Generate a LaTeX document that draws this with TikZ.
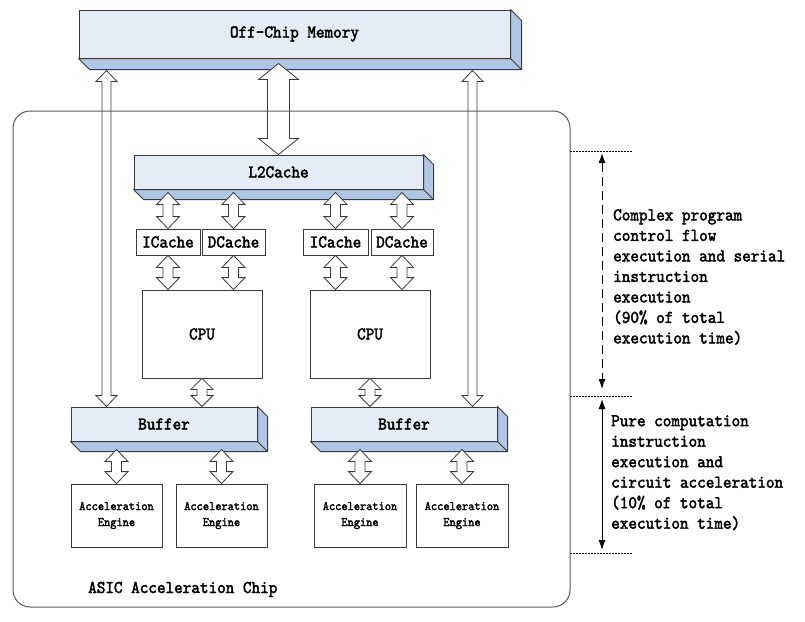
\documentclass[tikz,border=0pt]{standalone}
\usepackage{fontspec}
\newfontfamily\serifmono{lmmono10-regular}[Extension=.otf, FakeBold=2.2, FakeStretch=0.91]
\usetikzlibrary{calc,arrows.meta}

\definecolor{facecol}{HTML}{E5ECF7}
\definecolor{depthcol}{HTML}{B1C5E5}
\definecolor{edgecol}{HTML}{3A3A3A}

\tikzset{
  mainfont/.style={font=\serifmono\fontsize{18}{20.5}\selectfont},
  slabface/.style={draw=edgecol, fill=facecol, line width=1pt, inner sep=0pt, mainfont},
  slabdepth/.style={draw=edgecol, fill=depthcol, line width=1pt, line join=bevel},
  plainbox/.style={draw=edgecol, fill=white, line width=0.8pt, inner sep=0pt, mainfont},
  aebox/.style={plainbox, font=\serifmono\fontsize{13}{16}\selectfont, align=center},
  harrow/.style={draw=edgecol, fill=white, line width=0.8pt, line join=miter},
  chipbox/.style={draw=edgecol!85, line width=1pt, rounded corners=17pt},
  guide/.style={draw=black, line width=0.8pt, dash pattern=on 1.5pt off 1.5pt},
  spanarrow/.style={draw=black, line width=1pt, {Latex[length=10pt,width=7pt]}-{Latex[length=10pt,width=7pt]}},
  note/.style={mainfont, align=left, inner sep=0pt, anchor=north west},
}

\newcommand\slabdepthdraw[2]{%
  \draw[slabdepth] (#1.south west) -- ++(#2,#2) -- ($(#1.south east)+(#2,#2)$)
     -- ($(#1.north east)+(#2,#2)$) -- (#1.north east) -- (#1.south east) -- cycle;
  \draw[slabdepth] (#1.south east) -- ++(#2,#2);
}

\newcommand\harr[5]{%
  \draw[harrow] let \p1=(#1), \p2=(#2) in
    (\x1,\y1) -- (\x1+#4,\y1-#5) -- (\x1+#3,\y1-#5) -- (\x1+#3,\y2+#5) -- (\x1+#4,\y2+#5)
    -- (\x1,\y2) -- (\x1-#4,\y2+#5) -- (\x1-#3,\y2+#5) -- (\x1-#3,\y1-#5) -- (\x1-#4,\y1-#5) -- cycle;
}

\begin{document}
\begin{tikzpicture}[x=1pt,y=-1pt]
\useasboundingbox (0,0) rectangle (805,621);

% Off-chip memory
\node[slabface, minimum width=431pt, minimum height=48pt] (mem) at (294.5,34) {Off-Chip Memory};
\slabdepthdraw{mem}{11}

% L2 cache
\node[slabface, minimum width=289pt, minimum height=34pt] (l2) at (278.5,172) {L2Cache};
\slabdepthdraw{l2}{10}

% Caches
\node[plainbox, minimum width=64pt, minimum height=26pt] (ic1) at (168,242) {ICache};
\node[plainbox, minimum width=63pt, minimum height=26pt] (dc1) at (233.5,242) {DCache};
\node[plainbox, minimum width=65pt, minimum height=26pt] (ic2) at (335.5,242) {ICache};
\node[plainbox, minimum width=62pt, minimum height=26pt] (dc2) at (402,242) {DCache};

% CPUs
\node[plainbox, minimum width=120pt, minimum height=88pt] (cpu1) at (202,334) {CPU};
\node[plainbox, minimum width=120pt, minimum height=88pt] (cpu2) at (370,334) {CPU};

% Buffers
\node[slabface, minimum width=186pt, minimum height=34pt] (buf1) at (164,424) {Buffer};
\slabdepthdraw{buf1}{10}
\node[slabface, minimum width=186pt, minimum height=34pt] (buf2) at (404,424) {Buffer};
\slabdepthdraw{buf2}{10}

% Acceleration engines
\node[aebox, minimum width=91pt, minimum height=63pt] (ae1) at (116.5,515.5) {Acceleration\\Engine};
\node[aebox, minimum width=91pt, minimum height=63pt] (ae2) at (221.5,515.5) {Acceleration\\Engine};
\node[aebox, minimum width=92pt, minimum height=63pt] (ae3) at (360,515.5) {Acceleration\\Engine};
\node[aebox, minimum width=92pt, minimum height=63pt] (ae4) at (462,515.5) {Acceleration\\Engine};

% Arrows
\harr{$(l2.north |- mem.south)+(0,5)$}{l2.north}{11pt}{20pt}{16pt}
\harr{$(buf1.north west |- mem.south)+(36,12)$}{$(buf1.north west)+(36,0)$}{4.5pt}{10.5pt}{11pt}
\harr{$(buf2.north east |- mem.south)+(-25,12)$}{$(buf2.north east)+(-25,0)$}{4.5pt}{10.5pt}{11pt}

\foreach \c in {ic1,dc1,ic2,dc2}{
  \harr{$(\c.north |- l2.south)+(0,3)$}{\c.north}{5pt}{11.5pt}{12pt}
}
\harr{ic1.south}{ic1.south |- cpu1.north}{5pt}{11.5pt}{12pt}
\harr{dc1.south}{dc1.south |- cpu1.north}{5pt}{11.5pt}{12pt}
\harr{ic2.south}{ic2.south |- cpu2.north}{5pt}{11.5pt}{12pt}
\harr{dc2.south}{dc2.south |- cpu2.north}{5pt}{11.5pt}{12pt}

\harr{cpu1.south}{cpu1.south |- buf1.north}{5pt}{11pt}{11pt}
\harr{cpu2.south}{cpu2.south |- buf2.north}{5pt}{11pt}{11pt}

\harr{$(ae1.north |- buf1.south)+(0,8)$}{ae1.north}{5pt}{11.5pt}{12pt}
\harr{$(ae2.north |- buf1.south)+(0,8)$}{ae2.north}{5pt}{11.5pt}{12pt}
\harr{$(ae3.north |- buf2.south)+(0,8)$}{ae3.north}{5pt}{11.5pt}{12pt}
\harr{$(ae4.north |- buf2.south)+(0,8)$}{ae4.north}{5pt}{11.5pt}{12pt}

% Chip outline
\draw[chipbox] (13,111) rectangle (570,607);
\node[mainfont, anchor=base west, inner sep=0pt] (chiplabel) at (88,593) {ASIC Acceleration Chip};

% Right annotations
\coordinate (g1a) at (570,151); \coordinate (g1b) at (633,151);
\coordinate (g2a) at (570,396); \coordinate (g2b) at (633,396);
\coordinate (g3a) at (570,553); \coordinate (g3b) at (633,553);
\draw[guide] (g1a) -- (g1b);
\draw[guide] (g2a) -- (g2b);
\draw[guide] (g3a) -- (g3b);

\coordinate (s1t) at (602,153); \coordinate (s1b) at (602,389);
\coordinate (s2t) at (602,399); \coordinate (s2b) at (602,550);
\draw[spanarrow, dash pattern=on 9pt off 5pt] (s1t) -- (s1b);
\draw[spanarrow] (s2t) -- (s2b);

\node[note] (n1) at (613,209) {Complex program\\control flow\\execution and serial\\instruction\\execution\\(90\% of total\\execution time)};
\node[note] (n2) at (611,415) {Pure computation\\instruction\\execution and\\circuit acceleration\\(10\% of total\\execution time)};
\end{tikzpicture}
\end{document}
